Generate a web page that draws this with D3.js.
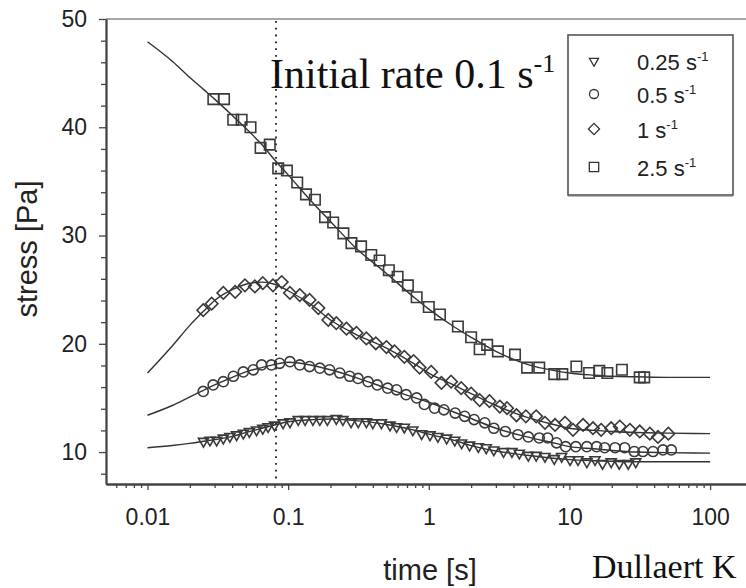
<!DOCTYPE html>
<html>
<head>
<meta charset="utf-8">
<script src="https://cdn.jsdelivr.net/npm/d3@7"></script>
<style>
	html, body { margin: 0; padding: 0; background: #fff; }
	svg { display: block; }
</style>
</head>
<body>
<div id="chart"></div>
<script>
// Model curves (stress vs time) for each rate
var fit_t = [0.01, 0.015, 0.02, 0.025, 0.03, 0.04, 0.05, 0.065, 0.08, 0.1, 0.15, 0.2, 0.3, 0.5, 0.8, 1, 1.5, 2, 3, 5, 8, 10, 15, 20, 30, 50, 100];
var fit_025 = [10.4, 10.6, 10.8, 11.0, 11.15, 11.45, 11.8, 12.2, 12.5, 12.8, 13.0, 13.05, 12.9, 12.55, 12.0, 11.65, 11.1, 10.6, 10.1, 9.7, 9.4, 9.3, 9.2, 9.15, 9.1, 9.1, 9.1];
var fit_05 = [13.4, 14.3, 15.1, 15.7, 16.2, 16.9, 17.4, 17.8, 18.1, 18.3, 18.0, 17.6, 16.9, 15.9, 15.0, 14.6, 13.7, 13.1, 12.2, 11.4, 10.8, 10.5, 10.3, 10.15, 10.0, 9.95, 9.9];
var fit_1 = [17.3, 19.8, 21.7, 23.0, 24.0, 25.0, 25.5, 25.7, 25.5, 24.9, 23.5, 22.2, 20.9, 19.6, 18.1, 17.3, 16.2, 15.4, 14.3, 13.2, 12.5, 12.2, 12.0, 11.9, 11.8, 11.75, 11.7];
var fit_25 = [47.9, 46.1, 44.6, 43.5, 42.6, 41.1, 39.9, 38.4, 37.0, 35.6, 33.0, 31.3, 28.9, 26.5, 24.2, 23.2, 21.6, 20.6, 19.3, 18.1, 17.5, 17.3, 17.1, 17.0, 16.95, 16.9, 16.9];

// Measured points
var tri_t = [0.025, 0.0278, 0.031, 0.0346, 0.0385, 0.043, 0.048, 0.053, 0.0596, 0.066, 0.072, 0.08, 0.092, 0.103, 0.118, 0.132, 0.15, 0.168, 0.19, 0.22, 0.245, 0.28, 0.315, 0.36, 0.40, 0.46, 0.53, 0.59, 0.67, 0.77, 0.89, 1.02, 1.16, 1.34, 1.53, 1.71, 1.95, 2.25, 2.56, 2.9, 3.4, 3.9, 4.4, 5.1, 5.8, 6.7, 7.8, 8.8, 10.1, 11.5, 13.3, 15.2, 17.2, 19.8, 22.6, 26.2, 29.6];
var tri_s = [11.0, 11.1, 11.1, 11.3, 11.45, 11.6, 11.75, 11.9, 12.05, 12.2, 12.35, 12.5, 12.7, 12.8, 13.0, 13.0, 13.0, 13.0, 13.0, 13.1, 13.0, 12.8, 12.8, 12.8, 12.7, 12.7, 12.5, 12.35, 12.3, 12.05, 11.7, 11.6, 11.45, 11.3, 11.1, 10.85, 10.65, 10.5, 10.4, 10.2, 10.05, 10.05, 9.9, 9.7, 9.7, 9.6, 9.4, 9.6, 9.3, 9.3, 9.1, 9.3, 8.95, 9.1, 8.95, 8.95, 9.1];
var circ_t = [0.0249, 0.0293, 0.0346, 0.0408, 0.048, 0.0565, 0.0648, 0.076, 0.087, 0.103, 0.121, 0.142, 0.168, 0.197, 0.233, 0.274, 0.314, 0.37, 0.43, 0.51, 0.59, 0.69, 0.82, 0.93, 1.1, 1.28, 1.54, 1.8, 2.1, 2.5, 2.9, 3.5, 4.3, 5.1, 6.1, 7.0, 8.1, 9.4, 11.1, 13.3, 15.6, 17.8, 21.1, 24.7, 28.9, 33.3, 39.3, 46.2, 53];
var circ_s = [15.6, 16.2, 16.5, 17.0, 17.4, 17.6, 18.05, 18.05, 18.2, 18.35, 18.05, 17.9, 17.75, 17.6, 17.3, 17.0, 16.8, 16.5, 16.2, 15.9, 15.75, 15.3, 15.0, 14.4, 14.05, 13.9, 13.6, 13.3, 13.0, 12.7, 12.2, 11.9, 11.6, 11.4, 11.3, 11.3, 10.85, 10.5, 10.5, 10.5, 10.5, 10.4, 10.4, 10.4, 10.05, 10.05, 10.05, 10.2, 10.2];
var dia_t = [0.0249, 0.0286, 0.0346, 0.042, 0.0493, 0.058, 0.066, 0.078, 0.09, 0.103, 0.121, 0.142, 0.164, 0.193, 0.22, 0.26, 0.306, 0.36, 0.42, 0.50, 0.57, 0.67, 0.78, 0.86, 1.04, 1.23, 1.44, 1.7, 2.0, 2.3, 2.7, 3.2, 3.6, 4.2, 4.9, 5.8, 6.7, 7.9, 9.3, 10.6, 12.5, 14.7, 16.8, 19.8, 22.8, 26.9, 31.6, 37.3, 42.6, 50.5];
var dia_s = [23.1, 23.7, 24.7, 24.8, 25.4, 25.3, 25.6, 25.4, 25.7, 24.7, 24.5, 24.05, 23.3, 22.2, 21.9, 21.4, 21.0, 20.5, 20.05, 19.7, 19.3, 18.8, 18.4, 17.8, 17.4, 16.4, 16.5, 15.9, 15.4, 14.8, 14.7, 14.2, 14.05, 13.4, 13.3, 13.3, 12.7, 12.5, 12.7, 12.05, 12.5, 12.2, 12.05, 12.2, 12.35, 12.05, 11.9, 11.7, 11.4, 11.7];
var sq_t = [0.0294, 0.035, 0.0407, 0.0467, 0.054, 0.0637, 0.074, 0.085, 0.098, 0.116, 0.134, 0.155, 0.183, 0.209, 0.247, 0.282, 0.33, 0.39, 0.447, 0.52, 0.6, 0.71, 0.82, 1.0, 1.2, 1.61, 2.0, 2.3, 2.6, 3.1, 4.1, 5.0, 6.1, 7.8, 8.9, 11.2, 13.8, 16.3, 18.6, 23.6, 31.6, 34];
var sq_s = [42.6, 42.6, 40.7, 40.7, 40.0, 38.1, 38.4, 36.2, 36.0, 34.9, 33.8, 33.3, 31.7, 31.2, 30.2, 29.3, 29.0, 28.2, 27.7, 26.8, 26.2, 25.4, 24.3, 23.4, 22.7, 21.6, 20.6, 19.5, 19.9, 19.3, 19.0, 17.8, 17.8, 17.2, 17.2, 17.9, 17.3, 17.5, 17.3, 17.6, 16.9, 16.9];

var legend_labels = ['0.25 s', '0.5 s', '1 s', '2.5 s'];
var x_major = [0.01, 0.1, 1, 10, 100];
var y_major = [10, 20, 30, 40, 50];
var initial_rate = 0.082;

var width = 746, height = 588;
var ink = '#333';

var svg = d3.select('#chart').append('svg')
	.attr('width', width)
	.attr('height', height);

/***********************************************************
  Scales
***********************************************************/
var x = d3.scaleLog().domain([0.00507, 180]).range([106, 746]);
var y = d3.scaleLinear().domain([7.05, 50]).range([484, 19]);

var x_minor = [];
[0.001, 0.01, 0.1, 1, 10, 100].forEach(function(dec) {
	for (var k = 2; k < 10; k++) {
		var v = dec * k;
		if (v > x.domain()[0] && v < x.domain()[1]) x_minor.push(v);
	}
});
var y_minor = d3.range(8, 50, 2).filter(function(v) { return v % 10 != 0; });

/***********************************************************
  Axes
***********************************************************/
svg.append('line')
	.attr('x1', 106).attr('x2', width)
	.attr('y1', y(50)).attr('y2', y(50))
	.attr('stroke', '#888').attr('stroke-width', 1.5);

var gx_minor = svg.append('g')
	.attr('transform', 'translate(0,' + y.range()[0] + ')')
	.call(d3.axisBottom(x).tickValues(x_minor).tickSize(4).tickSizeOuter(0).tickFormat(''));
var gx = svg.append('g')
	.attr('transform', 'translate(0,' + y.range()[0] + ')')
	.call(d3.axisBottom(x).tickValues(x_major).tickSize(6).tickSizeOuter(0).tickPadding(19)
		.tickFormat(function(d) { return String(d); }));
var gy_minor = svg.append('g')
	.attr('transform', 'translate(' + x.range()[0] + ',0)')
	.call(d3.axisLeft(y).tickValues(y_minor).tickSize(5).tickSizeOuter(0).tickFormat(''));
var gy = svg.append('g')
	.attr('transform', 'translate(' + x.range()[0] + ',0)')
	.call(d3.axisLeft(y).tickValues(y_major).tickSize(7).tickSizeOuter(0).tickPadding(12));

[gx_minor, gx, gy_minor, gy].forEach(function(g) {
	g.selectAll('path').attr('stroke', '#444').attr('stroke-width', 1.8);
	g.selectAll('line').attr('stroke', '#444').attr('stroke-width', 1.3);
	g.selectAll('text')
		.attr('fill', '#222')
		.style('font-family', '"Liberation Sans", Arial, sans-serif')
		.style('font-size', '23px');
});

svg.append('text')
	.text('stress [Pa]')
	.attr('transform', 'translate(37,249) rotate(-90)')
	.style('text-anchor', 'middle')
	.style('font-family', '"Liberation Sans", Arial, sans-serif')
	.style('font-size', '29px')
	.attr('fill', '#222');
svg.append('text')
	.text('time [s]')
	.attr('x', 430).attr('y', 580)
	.style('text-anchor', 'middle')
	.style('font-family', '"Liberation Sans", Arial, sans-serif')
	.style('font-size', '29px')
	.attr('fill', '#222');

/***********************************************************
  Dotted line at the initial rate
***********************************************************/
svg.append('line')
	.attr('x1', x(initial_rate)).attr('x2', x(initial_rate))
	.attr('y1', y(50) + 2).attr('y2', y.range()[0] - 4)
	.attr('stroke', ink)
	.attr('stroke-width', 2)
	.attr('stroke-dasharray', '1.8,5');

/***********************************************************
  Fitted curves
***********************************************************/
var line = d3.line()
	.x(function(d) { return x(d[0]); })
	.y(function(d) { return y(d[1]); })
	.curve(d3.curveMonotoneX);

[fit_025, fit_05, fit_1, fit_25].forEach(function(fit) {
	svg.append('path')
		.datum(fit_t.map(function(t, i) { return [t, fit[i]]; }))
		.attr('d', line)
		.attr('fill', 'none')
		.attr('stroke', ink)
		.attr('stroke-width', 1.4);
});

/***********************************************************
  Markers
***********************************************************/
var series = [
	{ t: tri_t, s: tri_s, type: d3.symbolTriangle, size: 44, rot: 180 },
	{ t: circ_t, s: circ_s, type: d3.symbolCircle, size: 80, rot: 0 },
	{ t: dia_t, s: dia_s, type: d3.symbolSquare, size: 78, rot: 45 },
	{ t: sq_t, s: sq_s, type: d3.symbolSquare, size: 110, rot: 0 }
];

series.forEach(function(ser) {
	var sym = d3.symbol().type(ser.type).size(ser.size);
	svg.append('g').selectAll('path')
		.data(ser.t.map(function(t, i) { return [t, ser.s[i]]; }))
		.enter().append('path')
		.attr('d', sym)
		.attr('transform', function(d) {
			return 'translate(' + x(d[0]) + ',' + y(d[1]) + ') rotate(' + ser.rot + ')';
		})
		.attr('fill', 'none')
		.attr('stroke', '#3a3a3a')
		.attr('stroke-width', 1.6);
});

/***********************************************************
  Annotation
***********************************************************/
var ann = svg.append('text')
	.attr('x', 270).attr('y', 88)
	.style('font-family', '"Liberation Serif", "Times New Roman", serif')
	.style('font-size', '42px')
	.attr('fill', '#111');
ann.append('tspan').text('Initial rate 0.1 s');
ann.append('tspan').text('-1').attr('dy', -16).style('font-size', '26px');

svg.append('text')
	.text('Dullaert K')
	.attr('x', 592).attr('y', 578)
	.style('font-family', '"Liberation Serif", "Times New Roman", serif')
	.style('font-size', '34px')
	.attr('fill', '#111');

/***********************************************************
  Legend
***********************************************************/
var legend = svg.append('g');
legend.append('rect')
	.attr('x', 568).attr('y', 35)
	.attr('width', 165).attr('height', 160)
	.attr('fill', '#fff')
	.attr('stroke', '#555')
	.attr('stroke-width', 1.6);
legend.append('line')
	.attr('x1', 568).attr('x2', 733)
	.attr('y1', 196).attr('y2', 196)
	.attr('stroke', '#777').attr('stroke-width', 1.2);

var leg_y = [61, 94, 129, 167];
series.forEach(function(ser, i) {
	var sym = d3.symbol().type(ser.type).size(ser.size * 0.8);
	legend.append('path')
		.attr('d', sym)
		.attr('transform', 'translate(594,' + leg_y[i] + ') rotate(' + ser.rot + ')')
		.attr('fill', 'none')
		.attr('stroke', ink)
		.attr('stroke-width', 1.3);
	var t = legend.append('text')
		.attr('x', 637).attr('y', leg_y[i] + 9)
		.style('font-family', '"Liberation Sans", Arial, sans-serif')
		.style('font-size', '22px')
		.attr('fill', '#222');
	t.append('tspan').text(legend_labels[i]);
	t.append('tspan').text('-1').attr('dy', -9).style('font-size', '13px');
});
</script>
</body>
</html>
